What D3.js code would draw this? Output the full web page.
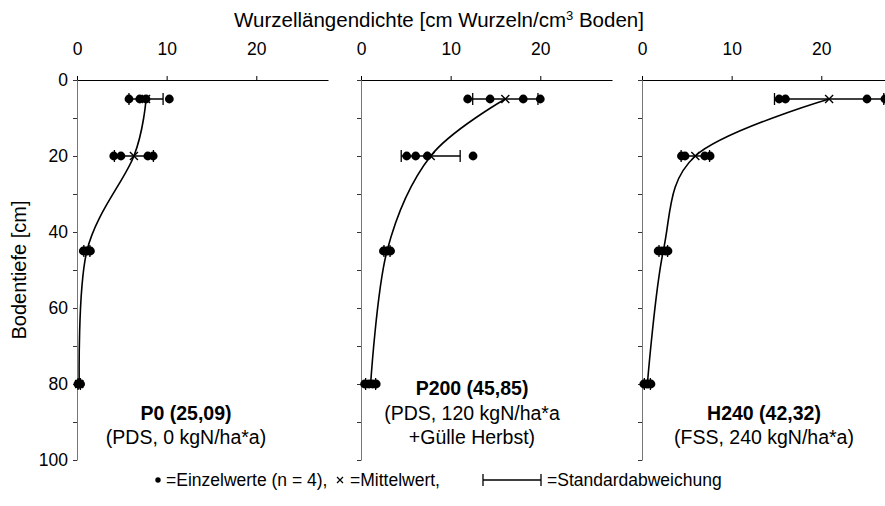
<!DOCTYPE html>
<html>
<head>
<meta charset="utf-8">
<script src="https://cdn.jsdelivr.net/npm/d3@7"></script>
<style>
  body { margin: 0; background: #fff; }
  svg { font-family: "Liberation Sans", Arial, sans-serif; }
</style>
</head>
<body>
<div id="chart"></div>
<script>
// Tiefenstufen (cm) und Einzelwerte je Variante (cm Wurzeln / cm3 Boden)
const depths = [5, 20, 45, 80];
const depthTicks = [0, 10, 20, 30, 40, 50, 60, 70, 80, 90, 100];
const depthLabels = [0, 20, 40, 60, 80, 100];
const densityTicks = [0, 10, 20];

const panelTitles = ["P0 (25,09)", "P200 (45,85)", "H240 (42,32)"];
const panelNotes = [
    ["(PDS, 0 kgN/ha*a)"],
    ["(PDS, 120 kgN/ha*a", "+Gülle Herbst)"],
    ["(FSS, 240 kgN/ha*a)"]
];
const legendTexts = ["=Einzelwerte (n = 4),", "=Mittelwert,", "=Standardabweichung"];

const p0Values = [[5.8, 7.0, 7.7, 10.3], [4.1, 4.9, 7.9, 8.5], [0.7, 1.0, 1.2, 1.5], [0.1, 0.2, 0.3, 0.4]];
const p200Values = [[11.9, 14.4, 18.1, 20.0], [5.1, 6.1, 7.4, 12.5], [2.5, 2.8, 3.0, 3.3], [0.4, 0.9, 1.3, 1.7]];
const h240Values = [[15.3, 16.0, 25.1, 27.1], [4.4, 4.8, 7.0, 7.6], [1.8, 2.2, 2.6, 2.9], [0.2, 0.5, 0.7, 1.0]];

const panelValues = [p0Values, p200Values, h240Values];

const width = 885, height = 506;
const panelLeft = [77, 361, 642];
const labelCenter = [186, 472, 764];
const panelWidth = 251;
const plotTop = 80, plotBottom = 460;

const svg = d3.select("#chart").append("svg")
    .attr("width", width)
    .attr("height", height);

const y = d3.scaleLinear().domain([0, 100]).range([plotTop, plotBottom]);

// Achsentitel
svg.append("text")
    .attr("x", 439).attr("y", 27)
    .attr("text-anchor", "middle")
    .style("font-size", "20.5px")
    .html('Wurzellängendichte [cm Wurzeln/cm<tspan dy="-7" style="font-size:13px">3</tspan><tspan dy="7"> Boden]</tspan>');

svg.append("text")
    .attr("transform", `translate(26,${(plotTop + plotBottom) / 2}) rotate(-90)`)
    .attr("text-anchor", "middle")
    .style("font-size", "20px")
    .text("Bodentiefe [cm]");

panelValues.forEach((vals, i) => {
    const x0 = panelLeft[i];
    const x = d3.scaleLinear().domain([0, 28]).range([x0, x0 + panelWidth]);
    const g = svg.append("g");

    // y-Achse (grau)
    const yAxis = g.append("g")
        .attr("transform", `translate(${x0},0)`)
        .call(d3.axisLeft(y)
            .tickValues(depthTicks)
            .tickSize(4)
            .tickSizeOuter(0)
            .tickPadding(5)
            .tickFormat(d => (i === 0 && depthLabels.includes(d)) ? d : ""));
    yAxis.select(".domain").attr("stroke", "#777");
    yAxis.selectAll(".tick line").attr("stroke", "#333");
    yAxis.selectAll("text").style("font-size", "17.5px").attr("fill", "#000");

    // x-Achse oben
    const xAxis = g.append("g")
        .attr("transform", `translate(0,${plotTop})`)
        .call(d3.axisTop(x)
            .tickValues(densityTicks)
            .tickSize(4)
            .tickSizeOuter(0)
            .tickPadding(21));
    xAxis.select(".domain").attr("stroke", "#000").attr("stroke-width", 1.2);
    xAxis.selectAll("text").style("font-size", "17.5px").attr("fill", "#000");

    const stats = vals.map((v, k) => ({
        depth: depths[k],
        values: v,
        mean: d3.mean(v),
        sd: d3.deviation(v)
    }));

    // Kurve durch Mittelwerte
    const line = d3.line()
        .x(d => x(d.mean))
        .y(d => y(d.depth))
        .curve(d3.curveCardinal.tension(0));
    g.append("path")
        .datum(stats)
        .attr("fill", "none")
        .attr("stroke", "#000")
        .attr("stroke-width", 1.6)
        .attr("d", line);

    // Standardabweichung
    const eb = g.selectAll(".eb").data(stats).join("g").attr("class", "eb");
    eb.append("line")
        .attr("x1", d => x(d.mean - d.sd)).attr("x2", d => x(d.mean + d.sd))
        .attr("y1", d => y(d.depth)).attr("y2", d => y(d.depth))
        .attr("stroke", "#000").attr("stroke-width", 1.5);
    eb.selectAll(".cap")
        .data(d => [d.mean - d.sd, d.mean + d.sd].map(v => ({ v, depth: d.depth })))
        .join("line")
        .attr("class", "cap")
        .attr("x1", d => x(d.v)).attr("x2", d => x(d.v))
        .attr("y1", d => y(d.depth) - 6).attr("y2", d => y(d.depth) + 6)
        .attr("stroke", "#000").attr("stroke-width", 1.3);

    // Einzelwerte
    g.selectAll(".pt")
        .data(stats.flatMap(d => d.values.map(v => ({ v, depth: d.depth }))))
        .join("circle")
        .attr("class", "pt")
        .attr("cx", d => x(d.v))
        .attr("cy", d => y(d.depth))
        .attr("r", 4.4)
        .attr("fill", "#000");

    // Mittelwert
    g.selectAll(".mean")
        .data(stats)
        .join("path")
        .attr("class", "mean")
        .attr("transform", d => `translate(${x(d.mean)},${y(d.depth)})`)
        .attr("d", "M-4,-4L4,4M-4,4L4,-4")
        .attr("stroke", "#000")
        .attr("stroke-width", 1.4);

    // Beschriftung der Variante
    const lines = [panelTitles[i]].concat(panelNotes[i]);
    const firstY = 444 - (lines.length - 1) * 24.5;
    lines.forEach((t, k) => {
        g.append("text")
            .attr("x", labelCenter[i]).attr("y", firstY + k * 24.5)
            .attr("text-anchor", "middle")
            .style("font-size", "19.5px")
            .style("font-weight", k === 0 ? "bold" : "normal")
            .text(t);
    });
});

// Legende
const lg = svg.append("g").attr("transform", "translate(0,486)");
const legendFont = "17.5px";
lg.append("circle").attr("cx", 158).attr("cy", -6).attr("r", 2.7).attr("fill", "#000");
lg.append("text").attr("x", 166).attr("y", 0).style("font-size", legendFont).text(legendTexts[0]);
lg.append("path").attr("d", "M337,-9L343,-3M337,-3L343,-9")
    .attr("stroke", "#000").attr("stroke-width", 1.2);
lg.append("text").attr("x", 350).attr("y", 0).style("font-size", legendFont).text(legendTexts[1]);
lg.append("path").attr("d", "M483,-6H541M483,-12V0M541,-12V0")
    .attr("stroke", "#000").attr("stroke-width", 1.3);
lg.append("text").attr("x", 547).attr("y", 0).style("font-size", legendFont).text(legendTexts[2]);
</script>
</body>
</html>
